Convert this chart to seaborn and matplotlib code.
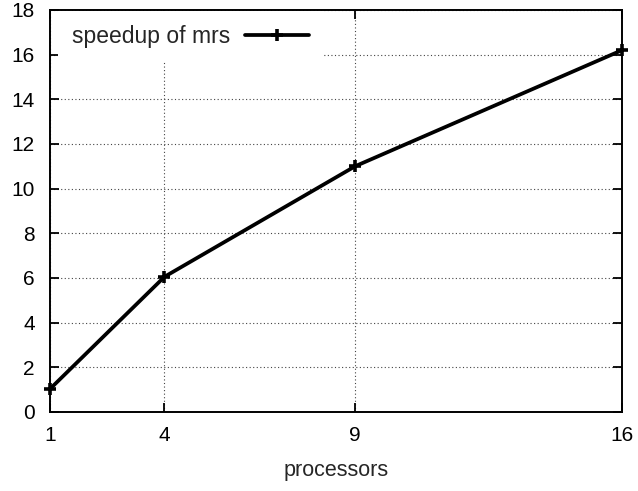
import matplotlib
matplotlib.use("Agg")
import matplotlib.pyplot as plt
import seaborn as sns
import pandas as pd

processors = [1, 4, 9, 16]
speedup = [1.03, 6.05, 11.0, 16.2]
x_ticks = [1, 4, 9, 16]
y_ticks = [0, 2, 4, 6, 8, 10, 12, 14, 16, 18]

sns.set_theme(style="white")
plt.rcParams['font.family'] = ['Liberation Sans', 'DejaVu Sans']

df = pd.DataFrame({"processors": processors, "speedup": speedup})

fig = plt.figure(figsize=(6.38, 4.91), dpi=100)
ax = fig.add_axes([0.0784, 0.161, 0.897, 0.819])

sns.lineplot(data=df, x="processors", y="speedup", ax=ax, color="black",
             linewidth=2.7, marker="+", markersize=8, markeredgewidth=2.6,
             markeredgecolor="black", markerfacecolor="black",
             label="speedup of mrs", clip_on=False)

ax.set_xlim(1, 16)
ax.set_ylim(0, 18)
ax.set_xticks(x_ticks)
ax.set_yticks(y_ticks)
ax.set_xticklabels([str(t) for t in x_ticks], fontsize=15)
ax.set_yticklabels([str(t) for t in y_ticks], fontsize=15)
ax.set_xlabel("processors", fontsize=15.5, labelpad=11)
ax.set_ylabel("")

ax.grid(True, color="#444444", linestyle=(0, (1, 2.2)), linewidth=0.8)
ax.tick_params(direction="in", length=6.5, width=1.3, top=True, right=True,
               bottom=True, left=True, colors="black")
ax.tick_params(axis="y", pad=11)
ax.tick_params(axis="x", pad=10)
for s in ax.spines.values():
    s.set_color("black")
    s.set_linewidth(1.4)

leg = ax.legend(loc="upper left", bbox_to_anchor=(0.014, 0.997),
                markerfirst=False, frameon=True,
                fontsize=16.5, handlelength=2.8, handletextpad=0.65,
                borderpad=0.6, borderaxespad=0.0,
                fancybox=False, edgecolor="white", framealpha=1.0)
leg.get_frame().set_linewidth(0)

fig.savefig("out.png", dpi=100)
